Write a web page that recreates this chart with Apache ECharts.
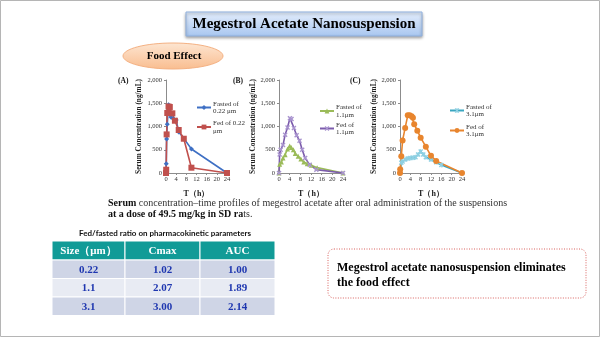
<!DOCTYPE html>
<html><head><meta charset="utf-8">
<script src="https://cdn.jsdelivr.net/npm/echarts@6/dist/echarts.min.js"></script>
<style>html,body{margin:0;padding:0;background:#fff}#c{width:600px;height:338px}</style>
</head><body><div id="c"></div>
<script>
// ---- data ----
const fastedA_t = [0, 0.1, 0.25, 0.5, 1, 1.5, 2, 3, 4, 5, 7, 10, 24];
const fastedA   = [0, 200, 730, 1050, 1470, 1260, 1200, 1160, 1140, 880, 745, 516, 0];
const fedA_t = [0, 0.08, 0.25, 0.5, 1, 1.5, 2.5, 3.5, 5, 7, 10, 24];
const fedA   = [0, 70, 830, 1290, 1430, 1420, 1283, 1124, 925, 737, 114, 0];
const fastedB_t = [0, 0.25, 0.9, 1.5, 2.3, 3.2, 4, 4.6, 5.4, 6.1, 7.2, 8.2, 9.3, 10.6, 12.1, 14.3, 24];
const fastedB   = [0, 190, 237, 320, 395, 516, 580, 550, 500, 420, 360, 300, 237, 200, 165, 115, 0];
const fedB_t = [0, 0.25, 0.6, 1.5, 2.3, 3.2, 4.1, 4.7, 5.6, 6.6, 7.7, 8.7, 9.8, 11.5, 14, 24];
const fedB   = [0, 400, 500, 600, 825, 980, 1180, 1160, 970, 810, 695, 500, 320, 180, 72, 0];
const fastedC_t = [0, 0.5, 1, 2, 3, 4, 5, 6, 7, 8, 9, 10, 12, 14, 16, 24];
const fastedC   = [0, 220, 250, 290, 310, 320, 330, 340, 400, 460, 400, 340, 290, 230, 170, 0];
const fedC_t = [0, 0.08, 0.5, 1, 2, 3, 3.75, 4.5, 5, 5.5, 6.7, 8, 10, 12, 14, 24];
const fedC   = [0, 80, 360, 700, 970, 1240, 1240, 1220, 1190, 1050, 910, 760, 565, 370, 260, 0];
const xTicks = [0, 4, 8, 12, 16, 20, 24];
const yTicks = [0, 500, 1000, 1500, 2000];
const seriesNames = ['Fasted of 0.22 μm', 'Fed of 0.22 μm', 'Fasted of 1.1μm', 'Fed of 1.1μm', 'Fasted of 3.1μm', 'Fed of 3.1μm'];
const legendLabels = ['Fasted of\n0.22 μm', 'Fed of 0.22\nμm', 'Fasted of\n1.1μm', 'Fed of\n1.1μm', 'Fasted of\n3.1μm', 'Fed of\n3.1μm'];
const tableHeader = ['Size（μm）', 'Cmax', 'AUC'];
const sizes = ['0.22', '1.1', '3.1'];
const cmaxRatio = ['1.02', '2.07', '3.00'];
const aucRatio = ['1.00', '1.89', '2.14'];

const serif = "'Liberation Serif','Times New Roman',serif";
const pair = (t, v) => t.map((x, i) => [x, v[i]]);
const xPath = 'path://M2,0L5,3L8,0L10,2L7,5L10,8L8,10L5,7L2,10L0,8L3,5L0,2Z';
const astPath = 'path://M4.2,0H5.8V10H4.2Z M2,0L5,3L8,0L10,2L7,5L10,8L8,10L5,7L2,10L0,8L3,5L0,2Z';

const grids = [
  {left: 166, top: 80, width: 61, height: 93},
  {left: 279, top: 80, width: 64, height: 93},
  {left: 400, top: 80, width: 62, height: 93}
];
const axisColor = '#8c8c8c';
const xAxes = grids.map((g, i) => ({
  gridIndex: i, type: 'value', min: xTicks[0], max: xTicks[xTicks.length - 1], interval: 4,
  name: 'T（h）', nameLocation: 'middle', nameGap: 17,
  nameTextStyle: {fontFamily: serif, fontWeight: 'bold', fontSize: 8, color: '#222'},
  axisLine: {show: true, lineStyle: {color: axisColor}},
  axisTick: {show: true, length: 2, lineStyle: {color: axisColor}},
  axisLabel: {fontFamily: serif, fontSize: 6.5, color: '#333', margin: 3},
  splitLine: {show: false}
}));
const yAxes = grids.map((g, i) => ({
  gridIndex: i, type: 'value', min: yTicks[0], max: yTicks[yTicks.length - 1], interval: 500,
  name: 'Serum Concentration (ng/mL)', nameLocation: 'middle', nameGap: i === 0 ? 23 : 21, nameRotate: 90,
  nameTextStyle: {fontFamily: serif, fontWeight: 'bold', fontSize: 7.3, color: '#222'},
  axisLine: {show: true, lineStyle: {color: axisColor}},
  axisTick: {show: true, length: 2, lineStyle: {color: axisColor}},
  axisLabel: {fontFamily: serif, fontSize: 6.5, color: '#333', margin: 4,
    formatter: v => v.toLocaleString('en-US')},
  splitLine: {show: false}
}));

function mkSeries(name, idx, t, v, color, symbol, size, symColor) {
  return {
    name, type: 'line', xAxisIndex: idx, yAxisIndex: idx, data: pair(t, v),
    symbol, symbolSize: size, showSymbol: true,
    lineStyle: {color, width: 1.6},
    itemStyle: {color: symColor || color, borderWidth: 0},
    emphasis: {disabled: true}, animation: false
  };
}
const series = [
  mkSeries(seriesNames[0], 0, fastedA_t, fastedA, '#3f70c4', 'diamond', 5),
  mkSeries(seriesNames[1], 0, fedA_t, fedA, '#c0504d', 'rect', 6),
  mkSeries(seriesNames[2], 1, fastedB_t, fastedB, '#9bbb59', 'triangle', 5),
  mkSeries(seriesNames[3], 1, fedB_t, fedB, '#7c5cac', xPath, 5, '#a994cf'),
  mkSeries(seriesNames[4], 2, fastedC_t, fastedC, '#3aa6c0', astPath, 5, '#8fd0e2'),
  mkSeries(seriesNames[5], 2, fedC_t, fedC, '#e8852e', 'circle', 6)
];

function mkLegend(names, left, top, gap) {
  return {
    data: names, left, top, orient: 'vertical', itemWidth: 14, itemHeight: 6, itemGap: gap,
    selectedMode: false,
    textStyle: {fontFamily: serif, fontSize: 7, lineHeight: 7.5, color: '#333', padding: [0, 0, 0, -3]},
    formatter: n => legendLabels[seriesNames.indexOf(n)]
  };
}
const legends = [
  mkLegend(seriesNames.slice(0, 2), 191, 95, 4.5),
  mkLegend(seriesNames.slice(2, 4), 314, 98.5, 2.5),
  mkLegend(seriesNames.slice(4, 6), 444, 98, 5)
];

// ---- slide graphics ----
const G = [];
G.push({type: 'rect', z: -10, shape: {x: 0.5, y: 0.5, width: 599, height: 336}, style: {fill: '#fff', stroke: '#b5b5b5', lineWidth: 1}, silent: true});
G.push({type: 'rect', shape: {x: 186, y: 12, width: 236, height: 24},
  style: {fill: new echarts.graphic.LinearGradient(0, 0, 0, 1, [{offset: 0, color: '#e4eefc'}, {offset: 1, color: '#a8c6f0'}]),
    stroke: '#8fb0de', lineWidth: 1, shadowBlur: 3, shadowColor: 'rgba(0,0,0,0.35)', shadowOffsetY: 1.5}});
G.push({type: 'text', style: {x: 304, y: 24.5, text: 'Megestrol Acetate Nanosuspension', font: 'bold 15px ' + serif, fill: '#000', align: 'center', verticalAlign: 'middle'}});
G.push({type: 'ellipse', shape: {cx: 173, cy: 56, rx: 50, ry: 13},
  style: {fill: new echarts.graphic.LinearGradient(0, 0, 0, 1, [{offset: 0, color: '#fde6d2'}, {offset: 1, color: '#f9bd8f'}]), stroke: '#f4b183', lineWidth: 1}});
G.push({type: 'text', style: {x: 174, y: 56.5, text: 'Food Effect', font: 'bold 11px ' + serif, fill: '#000', align: 'center', verticalAlign: 'middle'}});
[['(A)', 118], ['(B)', 233], ['(C)', 350]].forEach(([t, x]) =>
  G.push({type: 'text', style: {x, y: 81, text: t, font: 'bold 7.5px ' + serif, fill: '#111', align: 'left', verticalAlign: 'middle'}}));
G.push({type: 'text', style: {x: 108, y: 203, verticalAlign: 'middle', align: 'left',
  text: '{a|Serum}{b| concentration–time profiles of megestrol acetate after oral administration of the suspensions}',
  rich: {a: {font: 'bold 10px ' + serif, fill: '#111'}, b: {font: '10px ' + serif, fill: '#333'}}}});
G.push({type: 'text', style: {x: 108, y: 214, verticalAlign: 'middle', align: 'left',
  text: '{a|at a dose of 49.5 mg/kg in SD ra}{b|ts.}',
  rich: {a: {font: 'bold 10px ' + serif, fill: '#111'}, b: {font: '10px ' + serif, fill: '#333'}}}});
G.push({type: 'text', style: {x: 165, y: 233, text: 'Fed/fasted ratio on pharmacokinetic parameters', font: 'bold 8px Lato, "Open Sans", sans-serif', fill: '#111', align: 'center', verticalAlign: 'middle'}});

// table
const colX = [52, 125, 200, 275];
const rowY = [241, 260, 278.5, 297, 315.5];
const rows = [tableHeader].concat(sizes.map((s, i) => [s, cmaxRatio[i], aucRatio[i]]));
rows.forEach((r, ri) => {
  r.forEach((cell, ci) => {
    const fill = ri === 0 ? '#119b97' : (ri % 2 === 1 ? '#cfd5e6' : '#e8ebf3');
    G.push({type: 'rect', shape: {x: colX[ci], y: rowY[ri], width: colX[ci + 1] - colX[ci], height: rowY[ri + 1] - rowY[ri]},
      style: {fill, stroke: '#fff', lineWidth: 1}});
    G.push({type: 'text', style: {x: (colX[ci] + colX[ci + 1]) / 2, y: (rowY[ri] + rowY[ri + 1]) / 2 + 0.5, text: cell,
      font: 'bold 11px ' + serif, fill: ri === 0 ? '#fff' : '#1f37b0', align: 'center', verticalAlign: 'middle'}});
  });
});
// conclusion box
G.push({type: 'rect', shape: {x: 328, y: 249, width: 258, height: 49, r: 6},
  style: {fill: '#fff', stroke: '#d9625f', lineWidth: 1, lineDash: [1, 1.5]}});
G.push({type: 'text', style: {x: 337, y: 275.5, text: 'Megestrol acetate nanosuspension eliminates\nthe food effect',
  font: 'bold 12px ' + serif, lineHeight: 15, fill: '#000', align: 'left', verticalAlign: 'middle'}});

const chart = echarts.init(document.getElementById('c'), null, {renderer: 'canvas'});
chart.setOption({
  backgroundColor: '#fff', animation: false,
  grid: grids, xAxis: xAxes, yAxis: yAxes, legend: legends, series,
  graphic: G
});
</script></body></html>
